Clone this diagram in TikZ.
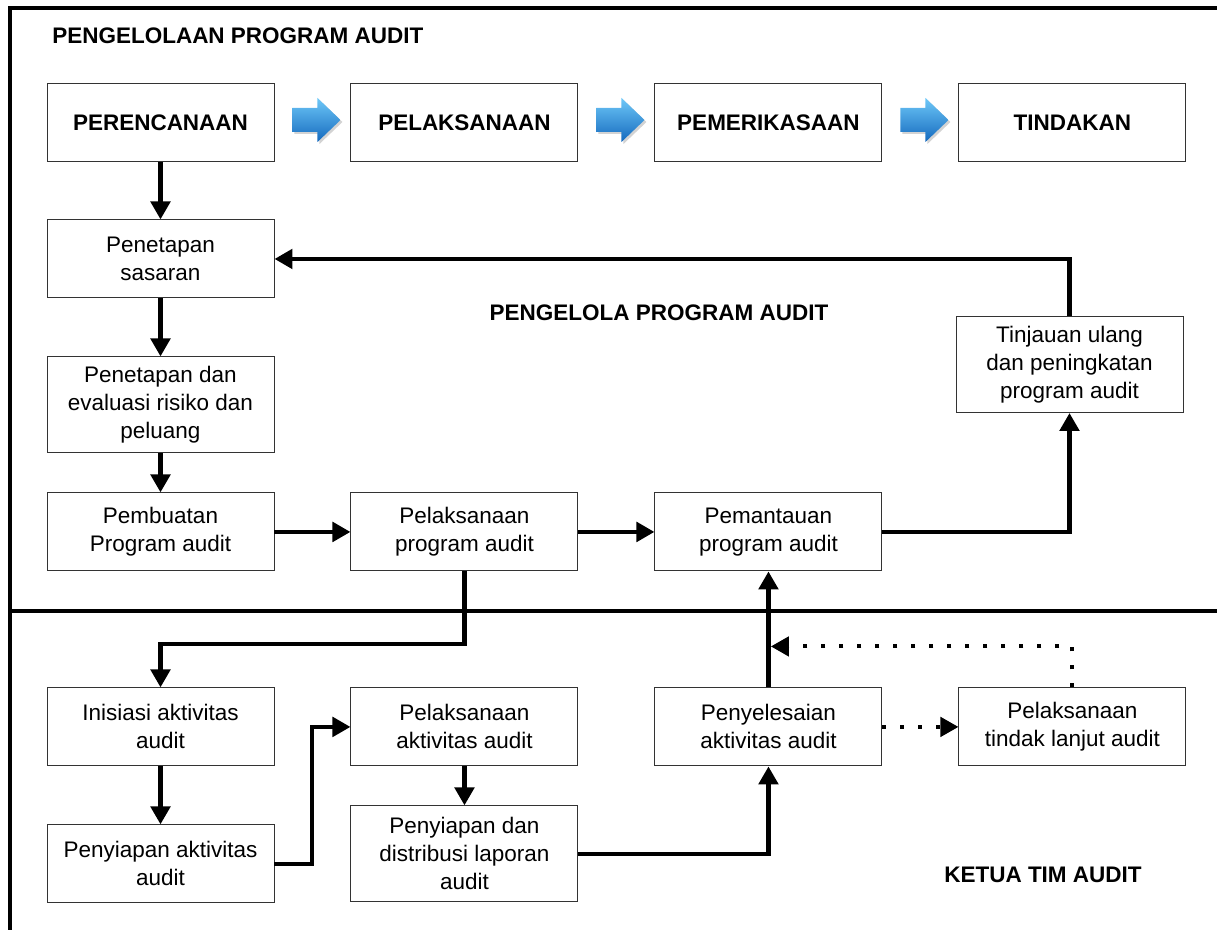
\documentclass[tikz,border=0pt]{standalone}
\usepackage{fontspec}
\setmainfont{Liberation Sans}
\usetikzlibrary{arrows.meta,positioning,shadows,calc}
\definecolor{arrowtop}{RGB}{110,200,248}
\definecolor{arrowbot}{RGB}{20,105,190}
\tikzset{>={Triangle[length=0.45cm,width=0.48cm]}}
\tikzset{
  box/.style={draw=black!80, line width=0.7pt, minimum width=5.675cm, minimum height=1.95cm,
    align=center, inner sep=2pt, font=\fontsize{16}{19.9}\selectfont},
  tallbox/.style={box, minimum height=2.4cm},
  stagebox/.style={box, font=\fontsize{16}{19.9}\selectfont\bfseries},
  heading/.style={inner sep=0pt, font=\fontsize{16}{19.9}\selectfont\bfseries},
  conn/.style={->, line width=3.2pt},
  dotline/.style={->, line width=2.8pt, dash pattern=on 0.1cm off 0.35cm},
  rim/.style={line width=3pt},
  bluearrow/.style={top color=arrowtop, bottom color=arrowbot,
    drop shadow={shadow xshift=0.05cm, shadow yshift=-0.05cm, opacity=0.35}}
}

\begin{document}
\begin{tikzpicture}
    \useasboundingbox (0,0) rectangle (30.425,23.25);
    \draw[rim] (30.425,23.05) -- (0.25,23.05) -- (0.25,0);
    \draw[rim] (0.25,7.975) -- (30.425,7.975);
    \node[heading, anchor=west] (title) at (1.3,22.35) {PENGELOLAAN PROGRAM AUDIT};
    \node[heading] (mgr) at (16.475,15.425) {PENGELOLA PROGRAM AUDIT};
    \node[heading] (lead) at (26.075,1.375) {KETUA TIM AUDIT};
    \node[stagebox] (plan) at (4.0125,20.175) {PERENCANAAN};
    \node[stagebox, right=1.9cm of plan] (exec) {PELAKSANAAN};
    \node[stagebox, right=1.9cm of exec] (check) {PEMERIKASAAN};
    \node[stagebox, right=1.9cm of check] (act) {TINDAKAN};
    \coordinate (b1) at ($(plan.east)+(0.45,0.075)$);
    \coordinate (b2) at ($(exec.east)+(0.45,0.075)$);
    \coordinate (b3) at ($(check.east)+(0.45,0.075)$);
    \path[bluearrow, shift={(b1)}] (0,0.3) -- (0.625,0.3) -- (0.625,0.55) -- (1.2,0) -- (0.625,-0.55) -- (0.625,-0.3) -- (0,-0.3) -- cycle;
    \path[bluearrow, shift={(b2)}] (0,0.3) -- (0.625,0.3) -- (0.625,0.55) -- (1.2,0) -- (0.625,-0.55) -- (0.625,-0.3) -- (0,-0.3) -- cycle;
    \path[bluearrow, shift={(b3)}] (0,0.3) -- (0.625,0.3) -- (0.625,0.55) -- (1.2,0) -- (0.625,-0.55) -- (0.625,-0.3) -- (0,-0.3) -- cycle;
    \node[box, below=1.425cm of plan] (target) {Penetapan\\sasaran};
    \node[tallbox, below=1.45cm of target] (risk) {Penetapan dan\\evaluasi risiko dan\\peluang};
    \node[box, below=0.975cm of risk] (make) {Pembuatan\\Program audit};
    \node[box, right=1.9cm of make] (run) {Pelaksanaan\\program audit};
    \node[box, right=1.9cm of run] (watch) {Pemantauan\\program audit};
    \node[tallbox] (review) at (26.7375,14.1375) {Tinjauan ulang\\dan peningkatan\\program audit};
    \node[box, below=2.9cm of make] (init) {Inisiasi aktivitas\\audit};
    \node[box, below=1.45cm of init] (prep) {Penyiapan aktivitas\\audit};
    \node[box, right=1.9cm of init] (work) {Pelaksanaan\\aktivitas audit};
    \node[tallbox, below=0.975cm of work] (report) {Penyiapan dan\\distribusi laporan\\audit};
    \node[box, right=1.9cm of work] (done) {Penyelesaian\\aktivitas audit};
    \node[box, right=1.9cm of done] (follow) {Pelaksanaan\\tindak lanjut audit};
    \draw[conn] (plan) -- (target);
    \draw[conn] (target) -- (risk);
    \draw[conn] (risk) -- (make);
    \draw[conn] (make) -- (run);
    \draw[conn] (run) -- (watch);
    \draw[conn] (watch) -| (review);
    \draw[conn] (review) |- (target);
    \coordinate (jA) at (11.5875,7.15);
    \draw[conn] (run) -- (run |- jA) -| (init);
    \draw[conn] (init) -- (prep);
    \coordinate (jB) at (7.8,1.8375);
    \draw[conn] (prep) -- (prep -| jB) |- (work);
    \draw[conn] (work) -- (report);
    \draw[conn] (report) -| (done);
    \draw[conn] (done) -- (watch);
    \draw[dotline] (done) -- (follow);
    \coordinate (jC) at ($(done.north)+(0.06,1.025)$);
    \draw[dotline] (follow) |- (jC);
\end{tikzpicture}
\end{document}
